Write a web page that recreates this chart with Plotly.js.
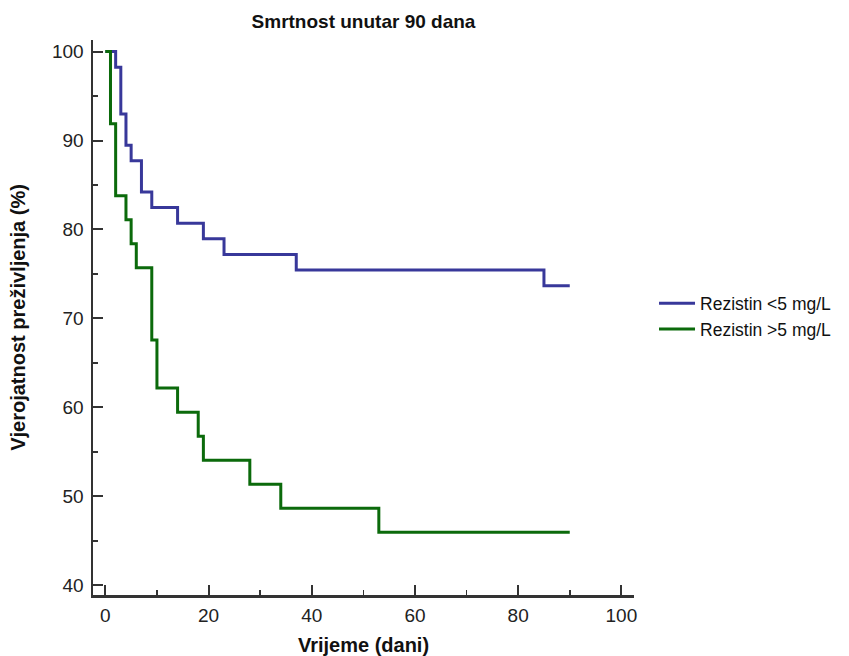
<!DOCTYPE html>
<html>
<head>
<meta charset="utf-8">
<script src="https://cdn.plot.ly/plotly-3.0.1.min.js"></script>
<style>html,body{margin:0;padding:0;background:#fff;}#chart{width:849px;height:656px;}</style>
</head>
<body>
<div id="chart"></div>
<script>
// Kaplan-Meier survival steps
const lowName = "Rezistin <5 mg/L";
const lowTimes = [0, 2, 3, 4, 5, 7, 9, 14, 19, 23, 37, 85, 90];
const lowSurvival = [100, 98.25, 92.98, 89.47, 87.72, 84.21, 82.46, 80.70, 78.95, 77.19, 75.44, 73.68, 73.68];

const highName = "Rezistin >5 mg/L";
const highTimes = [0, 1, 2, 4, 5, 6, 9, 10, 14, 18, 19, 28, 34, 53, 90];
const highSurvival = [100, 91.89, 83.78, 81.08, 78.38, 75.68, 67.57, 62.16, 59.46, 56.76, 54.05, 51.35, 48.65, 45.95, 45.95];

const xTicks = [0, 20, 40, 60, 80, 100];
const yTicks = [40, 50, 60, 70, 80, 90, 100];

const fontFam = '"Liberation Sans", Arial, sans-serif';
const axisColor = '#333333';

const traces = [
  {x: lowTimes, y: lowSurvival, name: lowName, mode: 'lines', line: {shape: 'hv', color: '#38389a', width: 3}},
  {x: highTimes, y: highSurvival, name: highName, mode: 'lines', line: {shape: 'hv', color: '#0b6a0b', width: 3}}
];

const axisCommon = {
  showgrid: false, zeroline: false, showline: true, linecolor: axisColor, linewidth: 2.5,
  ticks: 'inside', ticklen: 10, tickwidth: 2, tickcolor: axisColor,
  tickfont: {family: fontFam, size: 19, color: '#222'},
  automargin: false
};

const layout = {
  width: 849, height: 656,
  margin: {l: 93, r: 212, t: 40, b: 61},
  paper_bgcolor: '#fff', plot_bgcolor: '#fff',
  font: {family: fontFam, color: '#111'},
  title: {text: '<b>Smrtnost unutar 90 dana</b>', font: {family: fontFam, size: 19, color: '#111'}, x: 0.5, xref: 'paper', y: 0.968, yanchor: 'middle'},
  xaxis: Object.assign({}, axisCommon, {
    range: [-2.39, 102.45], tickvals: xTicks, ticktext: xTicks.map(String),
    ticklabelstandoff: 2,
    minor: {dtick: 10, tick0: 0, ticks: 'inside', ticklen: 5, tickwidth: 1.5, tickcolor: axisColor},
    title: {text: '<b>Vrijeme (dani)</b>', font: {family: fontFam, size: 20, color: '#111'}, standoff: 16}
  }),
  yaxis: Object.assign({}, axisCommon, {
    range: [38.9, 101.3], tickvals: yTicks, ticktext: yTicks.map(String),
    ticklabelstandoff: 3,
    minor: {dtick: 5, tick0: 0, ticks: 'inside', ticklen: 5, tickwidth: 1.5, tickcolor: axisColor},
    title: {text: '<b>Vjerojatnost preživljenja (%)</b>', font: {family: fontFam, size: 20, color: '#111'}, standoff: 21}
  }),
  showlegend: true,
  legend: {x: 1.037, xanchor: 'left', y: 0.502, yanchor: 'middle', font: {family: fontFam, size: 17.5, color: '#111'}, tracegroupgap: 0, itemwidth: 36, bgcolor: 'rgba(0,0,0,0)'}
};

Plotly.newPlot('chart', traces, layout, {displayModeBar: false, staticPlot: true});
</script>
</body>
</html>
